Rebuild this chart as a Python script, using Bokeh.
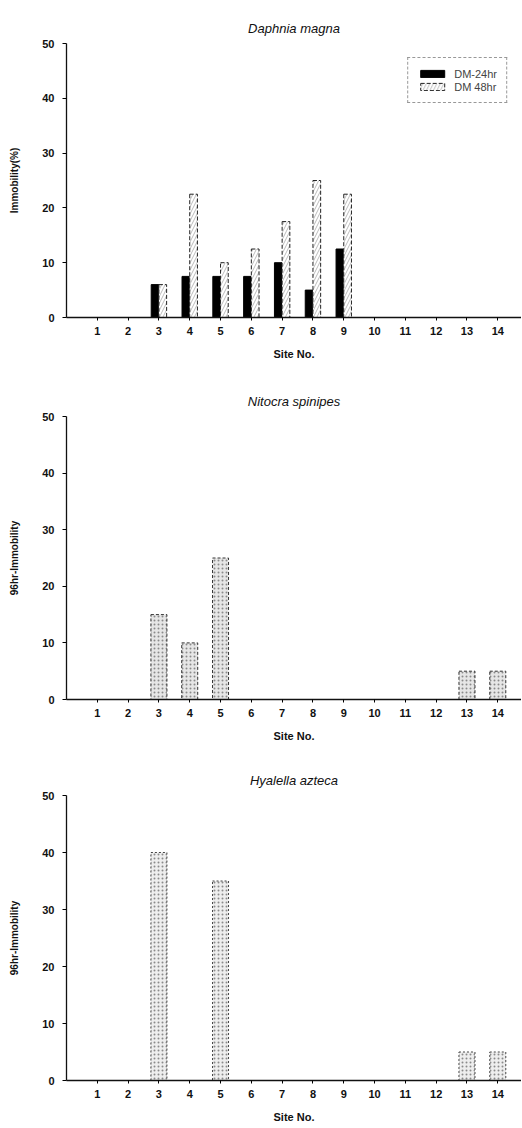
from bokeh.plotting import figure
from bokeh.layouts import column
from bokeh.models import Range1d, FixedTicker, Legend, LegendItem
from bokeh.embed import file_html
from bokeh.resources import INLINE

sites = list(range(1, 15))
dm24 = [0, 0, 6, 7.5, 7.5, 7.5, 10, 5, 12.5, 0, 0, 0, 0, 0]
dm48 = [0, 0, 6, 22.5, 10, 12.5, 17.5, 25, 22.5, 0, 0, 0, 0, 0]
nitocra = [0, 0, 15, 10, 25, 0, 0, 0, 0, 0, 0, 0, 5, 5]
hyalella = [0, 0, 40, 0, 35, 0, 0, 0, 0, 0, 0, 0, 5, 5]
y_ticks = [0, 10, 20, 30, 40, 50]

FONT = "Liberation Sans"


def make_fig(title, ylabel, h, top, bottom, left):
    p = figure(width=521, height=h, output_backend="svg", toolbar_location=None,
               x_range=Range1d(0, 14.77), y_range=Range1d(0, 50),
               min_border_top=top, min_border_bottom=bottom,
               min_border_left=left, min_border_right=0)
    p.title.text = title
    p.title.align = "center"
    p.title.text_font = FONT
    p.title.text_font_style = "italic"
    p.title.text_font_size = "13px"
    p.title.text_color = "#111111"
    p.title.standoff = 15
    p.outline_line_color = None
    p.xgrid.visible = False
    p.ygrid.visible = False
    p.background_fill_color = "white"
    p.border_fill_color = "white"

    xa = p.xaxis[0]
    xa.ticker = FixedTicker(ticks=sites)
    xa.minor_tick_line_color = None
    xa.major_tick_in = 0
    xa.major_tick_out = 3
    xa.major_label_standoff = 6
    xa.major_label_text_font = FONT
    xa.major_label_text_font_style = "bold"
    xa.major_label_text_font_size = "11px"
    xa.major_label_text_color = "#111111"
    xa.axis_label = "Site No."
    xa.axis_label_text_font = FONT
    xa.axis_label_text_font_style = "bold"
    xa.axis_label_text_font_size = "11px"
    xa.axis_label_text_color = "#111111"
    xa.axis_label_standoff = 10
    xa.axis_line_color = "#111111"
    xa.axis_line_width = 1.3

    ya = p.yaxis[0]
    ya.ticker = FixedTicker(ticks=y_ticks)
    ya.minor_tick_line_color = None
    ya.major_tick_in = 0
    ya.major_tick_out = 4
    ya.major_label_standoff = 8
    ya.major_label_text_font = FONT
    ya.major_label_text_font_style = "bold"
    ya.major_label_text_font_size = "11px"
    ya.major_label_text_color = "#111111"
    ya.axis_label = ylabel
    ya.axis_label_text_font = FONT
    ya.axis_label_text_font_style = "bold"
    ya.axis_label_text_font_size = "10px"
    ya.axis_label_text_color = "#111111"
    ya.axis_label_standoff = 19
    ya.axis_line_color = "#111111"
    ya.axis_line_width = 1.3
    return p


# Panel 1: Daphnia magna
p1 = make_fig("Daphnia magna", "Immobility(%)", 370, 43, 53, 66)
x24 = [s - 0.125 for s in sites]
x48 = [s + 0.125 for s in sites]
r24 = p1.vbar(x=x24, top=dm24, width=0.25, bottom=0,
              fill_color="black", line_color="black", line_width=1)
r48 = p1.vbar(x=x48, top=dm48, width=0.25, bottom=0,
              fill_color="white", line_color="#222222", line_width=1,
              line_dash="4 2", hatch_pattern="/", hatch_color="#aaaaaa",
              hatch_scale=7, hatch_weight=0.8)
legend = Legend(items=[LegendItem(label="DM-24hr", renderers=[r24]),
                       LegendItem(label="DM 48hr", renderers=[r48])],
                location="top_right", margin=14, padding=9, spacing=0,
                glyph_width=30, glyph_height=9, label_height=13,
                label_text_font=FONT, label_text_font_size="11px",
                label_standoff=7,
                border_line_color="#333333", border_line_dash="4 3",
                border_line_width=1)
p1.add_layout(legend)

# Panel 2: Nitocra spinipes
p2 = make_fig("Nitocra spinipes", "96hr-Immobility", 382, 46, 53, 62)
p2.vbar(x=sites, top=nitocra, width=0.52, bottom=0,
        fill_color="#e6e6e6", line_color="#333333", line_width=1,
        line_dash="3 2", hatch_pattern=".", hatch_color="#8a8a8a",
        hatch_scale=4, hatch_weight=1)

# Panel 3: Hyalella azteca
p3 = make_fig("Hyalella azteca", "96hr-Immobility", 376, 43, 48, 62)
p3.vbar(x=sites, top=hyalella, width=0.52, bottom=0,
        fill_color="#eeeeee", line_color="#444444", line_width=1,
        line_dash="2 2", hatch_pattern=".", hatch_color="#8a8a8a",
        hatch_scale=4, hatch_weight=1)

layout = column(p1, p2, p3, spacing=0)
open("out.html", "w").write(file_html(layout, INLINE))
